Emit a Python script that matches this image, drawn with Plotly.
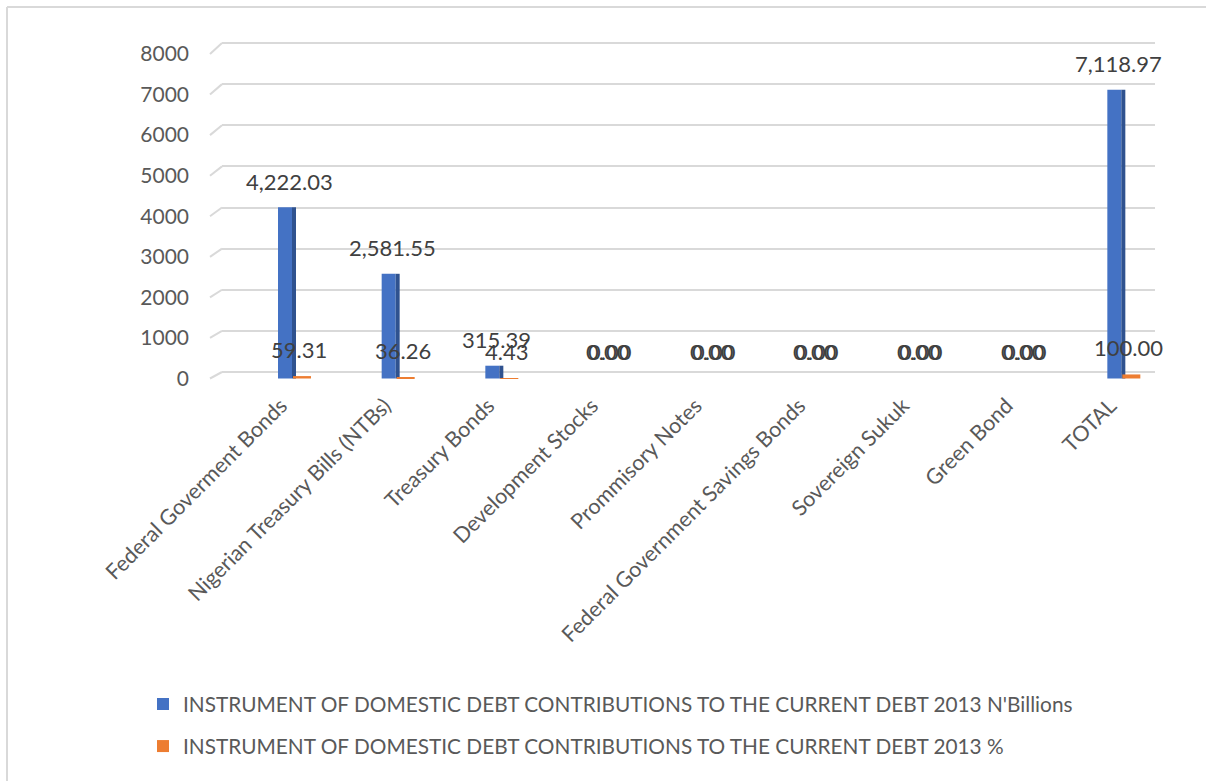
import plotly.graph_objects as go

categories = ["Federal Goverment Bonds", "Nigerian Treasury Bills (NTBs)", "Treasury Bonds",
              "Development Stocks", "Prommisory Notes", "Federal Government Savings Bonds",
              "Sovereign Sukuk", "Green Bond", "TOTAL"]
billions = [4222.03, 2581.55, 315.39, 0.00, 0.00, 0.00, 0.00, 0.00, 7118.97]
percent = [59.31, 36.26, 4.43, 0.00, 0.00, 0.00, 0.00, 0.00, 100.00]
y_ticks = [0, 1000, 2000, 3000, 4000, 5000, 6000, 7000, 8000]
name_b = "INSTRUMENT OF DOMESTIC DEBT CONTRIBUTIONS TO THE CURRENT DEBT 2013 N'Billions"
name_p = "INSTRUMENT OF DOMESTIC DEBT CONTRIBUTIONS TO THE CURRENT DEBT 2013 %"

W, H = 1206, 781
L, R, T, B = 222, 1155, 40, 385
FONT = "Lato"

# front scale (bars/labels) and back scale (gridlines)
k1 = (378.5 - 54) / 8000.0
y1_range = [-(B - 378.5) / k1, 8000 + (54 - T) / k1]
k2 = (372 - 43) / 8000.0
y2_range = [-(B - 372) / k2, 8000 + (43 - T) / k2]

pitch = (R - L) / 9.0
c0 = 281
x0 = -0.5 - (c0 - (L + pitch / 2)) / pitch
x_range = [x0, x0 + 9]

def u(px):
    return px / pitch

idx = list(range(len(categories)))

fig = go.Figure()
fig.add_trace(go.Bar(x=idx, y=billions, name=name_b, marker_color="#4472C4",
                     offset=u(-3), width=u(14), legendgroup="b", marker_line_width=0))
fig.add_trace(go.Bar(x=idx, y=billions, showlegend=False, marker_color="#2F528F",
                     offset=u(11), width=u(4), hoverinfo="skip", marker_line_width=0))
fig.add_trace(go.Bar(x=idx, y=percent, name=name_p, marker_color="#ED7D31",
                     offset=u(12), width=u(18), legendgroup="p", marker_line_width=0))
fig.add_trace(go.Scatter(x=[0], y=[0], yaxis="y2", mode="markers", marker_opacity=0,
                         showlegend=False, hoverinfo="skip"))

ann = []
for i, v in enumerate(billions):
    ann.append(dict(x=i, y=v, xref="x", yref="y", text=f"{v:,.2f}", showarrow=False,
                    xshift=(16 if v == 0 else 8), yshift=(27 if v == 0 else 26),
                    yanchor="middle",
                    font=dict(family=FONT, size=22, color="#404040")))
for i, v in enumerate(percent):
    ann.append(dict(x=i, y=v, xref="x", yref="y", text=f"{v:,.2f}", showarrow=False,
                    xshift=18, yshift=27, yanchor="middle",
                    font=dict(family=FONT, size=22, color="#404040")))

def px_x(p):
    return (p - L) / (R - L)

def px_y(p):
    return (B - p) / (B - T)

shapes = []
for v in y_ticks:
    shapes.append(dict(type="line", xref="paper", yref="paper",
                       x0=px_x(210), x1=px_x(222),
                       y0=px_y(378.5 - v * k1), y1=px_y(372 - v * k2),
                       line=dict(color="#D9D9D9", width=2), layer="below"))
# outer chart border (left and top)
shapes.append(dict(type="line", xref="paper", yref="paper", x0=px_x(7), x1=px_x(7),
                   y0=px_y(7), y1=px_y(790), line=dict(color="#D9D9D9", width=2)))
shapes.append(dict(type="line", xref="paper", yref="paper", x0=px_x(7), x1=px_x(1215),
                   y0=px_y(7), y1=px_y(7), line=dict(color="#D9D9D9", width=2)))

fig.update_layout(
    width=W, height=H, autosize=False,
    margin=dict(l=L, r=W - R, t=T, b=H - B, pad=0, autoexpand=False),
    paper_bgcolor="white", plot_bgcolor="rgba(0,0,0,0)",
    barmode="overlay",
    font=dict(family=FONT, color="#595959"),
    xaxis=dict(range=x_range, tickmode="array", tickvals=idx, ticktext=categories,
               tickangle=-45, showgrid=False, zeroline=False, showline=False,
               automargin=False, ticklabelstandoff=3,
               tickfont=dict(family=FONT, size=21.5, color="#595959"), ticks=""),
    yaxis=dict(range=y1_range, tickmode="array", tickvals=y_ticks, showgrid=False,
               zeroline=False, showline=False, ticks="", ticklabelstandoff=32,
               automargin=False,
               tickfont=dict(family=FONT, size=21, color="#595959")),
    yaxis2=dict(range=y2_range, overlaying="y", side="left", tickmode="array",
                tickvals=y_ticks, showticklabels=False, showgrid=True, automargin=False,
                gridcolor="#D9D9D9", gridwidth=2, zeroline=False, showline=False),
    legend=dict(xref="container", yref="container", x=143 / W, y=1 - 684 / H,
                xanchor="left", yanchor="top", orientation="v", tracegroupgap=12,
                font=dict(family=FONT, size=20.8, color="#595959"), bgcolor="rgba(0,0,0,0)"),
    annotations=ann, shapes=shapes, showlegend=True,
)

fig.write_html("out.html")
